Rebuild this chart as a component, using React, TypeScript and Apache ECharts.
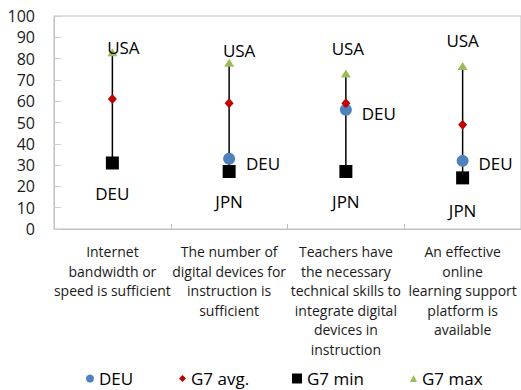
import React, { useEffect, useRef } from 'react';
import * as echarts from 'echarts';

const categories = [
  'Internet\nbandwidth or\nspeed is sufficient',
  'The number of\ndigital devices for\ninstruction is\nsufficient',
  'Teachers have\nthe necessary\ntechnical skills to\nintegrate digital\ndevices in\ninstruction',
  'An effective\nonline\nlearning support\nplatform is\navailable',
];
const deu = [31, 33, 56, 32];
const g7Avg = [61, 59, 59, 49];
const g7Min = [31, 27, 27, 24];
const g7Max = [83, 78, 73, 76.5];
const maxCountry = ['USA', 'USA', 'USA', 'USA'];
const minCountry = ['DEU', 'JPN', 'JPN', 'JPN'];
const deuLabel = ['', 'DEU', 'DEU', 'DEU'];
const yTicks = [0, 100, 10];

// label placement (pixels), kept apart from data
const maxLabelOffsets = [[11, -5], [10, -12], [2, -25], [0, -26]];
const minLabelOffsets = [[0, 31], [0, 30], [0, 30], [0, 33]];
const deuLabelOffsets = [[0, 0], [34, 5], [33, 4], [33, 3]];

const FONT = 'Open Sans';

export default function App() {
  const ref = useRef<HTMLDivElement>(null);
  useEffect(() => {
    if (!ref.current) return;
    const chart = echarts.init(ref.current, undefined, { renderer: 'svg' });
    const pointLabel = (offset: number[]) => ({
      show: true,
      position: 'inside',
      offset,
      fontSize: 17,
      fontFamily: FONT,
      color: '#000',
    });
    const legendBase = {
      top: 370,
      padding: 0,
      textStyle: { fontSize: 17, lineHeight: 17, fontFamily: FONT, color: '#000' },
      itemGap: 0,
    };
    chart.setOption({
      animation: false,
      textStyle: { fontFamily: FONT },
      grid: {
        left: 54,
        top: 16,
        width: 470,
        height: 213,
        show: true,
        borderColor: '#c0c0c0',
        borderWidth: 1,
        containLabel: false,
      },
      legend: [
        { ...legendBase, left: 86, itemWidth: 8, itemHeight: 8, data: [{ name: 'DEU', icon: 'circle' }] },
        { ...legendBase, left: 179, itemWidth: 7, itemHeight: 7, data: [{ name: 'G7 avg.', icon: 'diamond' }] },
        { ...legendBase, left: 292, itemWidth: 10, itemHeight: 10, data: [{ name: 'G7 min', icon: 'rect' }] },
        { ...legendBase, left: 410, itemWidth: 7, itemHeight: 7, data: [{ name: 'G7 max', icon: 'triangle' }] },
      ],
      xAxis: {
        type: 'category',
        data: categories,
        boundaryGap: true,
        axisLine: { lineStyle: { color: '#c0c0c0' } },
        axisTick: { show: true, inside: true, length: 5, lineStyle: { color: '#c0c0c0' } },
        axisLabel: {
          interval: 0,
          fontSize: 14,
          lineHeight: 19.5,
          margin: 13,
          color: '#1a1a1a',
          fontFamily: FONT,
        },
      },
      yAxis: {
        type: 'value',
        min: yTicks[0],
        max: yTicks[1],
        interval: yTicks[2],
        axisLine: { show: true, lineStyle: { color: '#c0c0c0' } },
        axisTick: { show: true, inside: true, length: 7, lineStyle: { color: '#d0d0d0' } },
        splitLine: { show: false },
        axisLabel: { fontSize: 16, margin: 19, color: '#1a1a1a', fontFamily: FONT },
      },
      series: [
        {
          type: 'custom',
          name: 'range',
          data: g7Min.map((v, i) => [i, v, g7Max[i]]),
          encode: { x: 0, y: [1, 2] },
          renderItem: (params: any, api: any) => {
            const p1 = api.coord([api.value(0), api.value(1)]);
            const p2 = api.coord([api.value(0), api.value(2)]);
            return {
              type: 'line',
              shape: { x1: p1[0], y1: p1[1], x2: p2[0], y2: p2[1] },
              style: { stroke: '#000', lineWidth: 1.5 },
            };
          },
          silent: true,
        },
        {
          type: 'scatter',
          name: 'DEU',
          symbol: 'circle',
          symbolSize: 12,
          itemStyle: { color: '#4f81bd', opacity: 1 },
          data: deu.map((v, i) => ({
            value: v,
            label: deuLabel[i]
              ? { ...pointLabel(deuLabelOffsets[i]), formatter: deuLabel[i] }
              : { show: false },
          })),
        },
        {
          type: 'scatter',
          name: 'G7 avg.',
          symbol: 'diamond',
          symbolSize: [9, 10],
          itemStyle: { color: '#c00000', opacity: 1 },
          data: g7Avg,
        },
        {
          type: 'scatter',
          name: 'G7 min',
          symbol: 'rect',
          symbolSize: 13,
          itemStyle: { color: '#000', opacity: 1 },
          data: g7Min.map((v, i) => ({
            value: v,
            label: { ...pointLabel(minLabelOffsets[i]), formatter: minCountry[i] },
          })),
        },
        {
          type: 'scatter',
          name: 'G7 max',
          symbol: 'triangle',
          symbolSize: [10, 8],
          itemStyle: { color: '#9bbb59', opacity: 1 },
          data: g7Max.map((v, i) => ({
            value: v,
            label: { ...pointLabel(maxLabelOffsets[i]), formatter: maxCountry[i] },
          })),
        },
      ],
    });
    return () => chart.dispose();
  }, []);
  return <div ref={ref} style={{ width: 521, height: 390, position: 'absolute', left: 0, top: 0 }} />;
}
